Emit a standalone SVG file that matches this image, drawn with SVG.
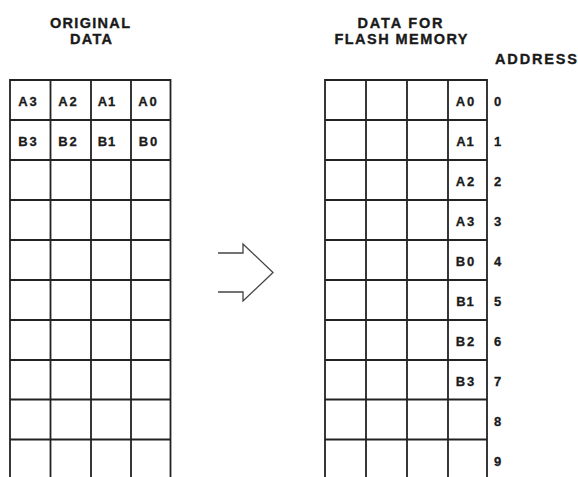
<svg xmlns="http://www.w3.org/2000/svg" width="578" height="477" viewBox="0 0 578 477">
<style>
.grid{stroke:#222;stroke-width:1.8;fill:none}
.hd{font-family:"Liberation Sans",Arial,sans-serif;font-weight:bold;font-size:14.5px;fill:#1a1a1a;stroke:#1a1a1a;stroke-width:0.35;text-anchor:middle}
.lb{font-family:"Liberation Sans",Arial,sans-serif;font-weight:bold;font-size:13px;fill:#1a1a1a;stroke:#1a1a1a;stroke-width:0.3;text-anchor:middle}
.ad{font-family:"Liberation Sans",Arial,sans-serif;font-weight:bold;font-size:13px;fill:#1a1a1a;stroke:#1a1a1a;stroke-width:0.3;text-anchor:start}
.arrow{stroke:#444;stroke-width:1.3;fill:none;stroke-linejoin:miter}
</style>
<rect width="578" height="477" fill="#fff"/>
<g id="original-data">
<text class="hd" x="90" y="27.5" textLength="80">ORIGINAL</text>
<text class="hd" x="91" y="43.5" textLength="42">DATA</text>
<path class="grid" d="M10,477V80H170.5V477M50.5,80V477M91,80V477M131,80V477M10,120H170.5M10,160H170.5M10,200H170.5M10,240H170.5M10,280H170.5M10,320H170.5M10,360H170.5M10,399.5H170.5M10,439.5H170.5"/>
<text class="lb" x="27.5" y="106" textLength="18.5">A3</text>
<text class="lb" x="67.5" y="106" textLength="18.5">A2</text>
<text class="lb" x="106.5" y="106" textLength="17.5">A1</text>
<text class="lb" x="147.5" y="106" textLength="18.5">A0</text>
<text class="lb" x="27.5" y="146" textLength="18.5">B3</text>
<text class="lb" x="67.5" y="146" textLength="18.5">B2</text>
<text class="lb" x="106.5" y="146" textLength="17.5">B1</text>
<text class="lb" x="148" y="146" textLength="18.5">B0</text>
</g>
<g id="connectors">
<path class="arrow" d="M218,253H243V244L273,272.5L243,301V292H218"/>
</g>
<g id="flash-data">
<text class="hd" x="400" y="27.5" textLength="85">DATA FOR</text>
<text class="hd" x="401" y="43.5" textLength="133">FLASH MEMORY</text>
<text class="hd" x="536" y="63.5" textLength="82">ADDRESS</text>
<path class="grid" d="M325,477V80H487V477M366,80V477M407,80V477M448,80V477M325,120H487M325,160H487M325,200H487M325,240H487M325,280H487M325,320H487M325,360H487M325,399.5H487M325,439.5H487"/>
<text class="lb" x="465" y="106" textLength="18.5">A0</text>
<text class="lb" x="465" y="146" textLength="17.5">A1</text>
<text class="lb" x="465" y="186" textLength="18.5">A2</text>
<text class="lb" x="465" y="226" textLength="18.5">A3</text>
<text class="lb" x="465" y="266" textLength="18.5">B0</text>
<text class="lb" x="465" y="306" textLength="17.5">B1</text>
<text class="lb" x="465" y="346" textLength="18.5">B2</text>
<text class="lb" x="465" y="386" textLength="18.5">B3</text>
<text class="ad" x="494" y="106">0</text>
<text class="ad" x="494" y="146">1</text>
<text class="ad" x="494" y="186">2</text>
<text class="ad" x="494" y="226">3</text>
<text class="ad" x="494" y="266">4</text>
<text class="ad" x="494" y="306">5</text>
<text class="ad" x="494" y="346">6</text>
<text class="ad" x="494" y="386">7</text>
<text class="ad" x="494" y="426">8</text>
<text class="ad" x="494" y="466">9</text>
</g>
</svg>
